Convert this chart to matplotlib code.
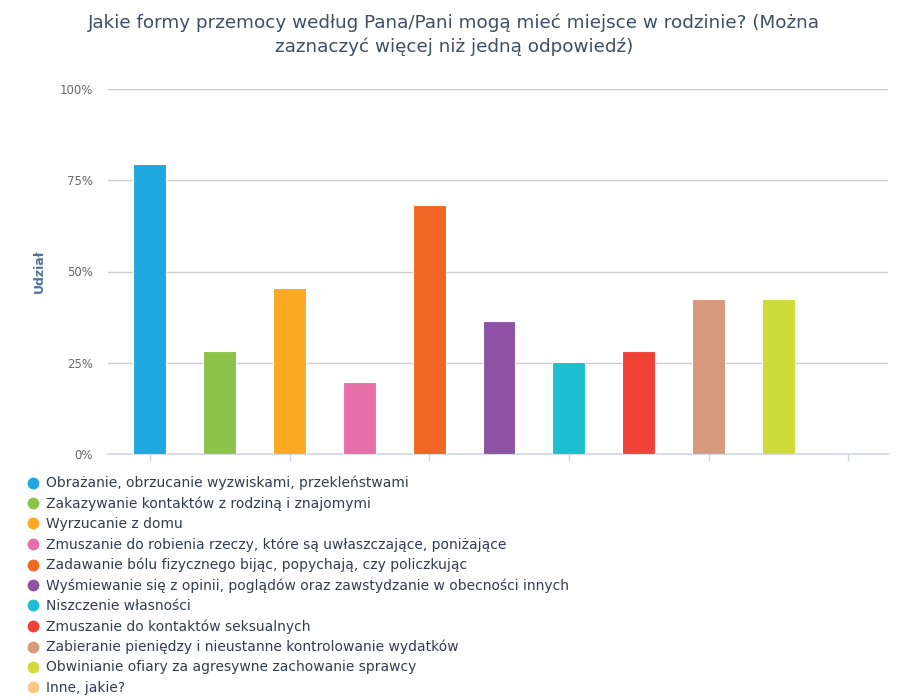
import matplotlib
matplotlib.use("Agg")
import matplotlib.pyplot as plt
from matplotlib.lines import Line2D
import numpy as np

plt.rcParams['font.family'] = ['DejaVu Sans']

title = "Jakie formy przemocy według Pana/Pani mogą mieć miejsce w rodzinie? (Można\nzaznaczyć więcej niż jedną odpowiedź)"
categories = [
    "Obrażanie, obrzucanie wyzwiskami, przekleństwami",
    "Zakazywanie kontaktów z rodziną i znajomymi",
    "Wyrzucanie z domu",
    "Zmuszanie do robienia rzeczy, które są uwłaszczające, poniżające",
    "Zadawanie bólu fizycznego bijąc, popychają, czy policzkując",
    "Wyśmiewanie się z opinii, poglądów oraz zawstydzanie w obecności innych",
    "Niszczenie własności",
    "Zmuszanie do kontaktów seksualnych",
    "Zabieranie pieniędzy i nieustanne kontrolowanie wydatków",
    "Obwinianie ofiary za agresywne zachowanie sprawcy",
    "Inne, jakie?",
]
values = [79.5, 28.2, 45.5, 19.7, 68.2, 36.5, 25.3, 28.1, 42.5, 42.5, 0.0]
colors = ["#1fa8e0", "#8bc34a", "#fba823", "#e76fa8", "#f06724", "#8d52a1",
          "#1bbfcf", "#ef4136", "#d7987b", "#cddc39", "#ffc982"]
yticks = [0, 25, 50, 75, 100]
ytick_labels = ["0%", "25%", "50%", "75%", "100%"]
ylabel = "Udział"

W, H = 908, 700
fig = plt.figure(figsize=(W / 100, H / 100), dpi=100)

ax = fig.add_axes([108 / W, 1 - 454 / H, (888 - 108) / W, (454 - 89) / H])
x = np.arange(len(categories))
ax.bar(x, values, width=0.47, color=colors, edgecolor='white', linewidth=0.8, zorder=3)
ax.set_xlim(-0.6, 10.57)
ax.set_ylim(0, 100)
ax.set_yticks(yticks)
ax.set_yticklabels(ytick_labels, color='#666666', fontsize=8.5)
ax.set_xticks(x[::2])
ax.set_xticklabels([])
ax.tick_params(axis='x', length=5, color='#ccd6eb', width=1)
ax.tick_params(axis='y', length=0, pad=11)
ax.grid(axis='y', color='#cccccc', linewidth=1, zorder=0)
for s in ['top', 'right', 'left']:
    ax.spines[s].set_visible(False)
ax.spines['bottom'].set_color('#ccd6eb')
ax.spines['bottom'].set_linewidth(1.2)
ax.set_ylabel(ylabel, color='#4d759e', fontsize=9, fontweight='bold', labelpad=10)

fig.text(0.5, 1 - 35 / H, title, ha='center', va='center', fontsize=13.2,
         color='#3e4e63', linespacing=1.4)

handles = [Line2D([0], [0], marker='o', linestyle='none', markersize=7.5,
                  markerfacecolor=c, markeredgecolor=c) for c in colors]
leg = fig.legend(handles, categories, loc='upper left', bbox_to_anchor=(27 / W, 1 - 476 / H),
                 frameon=False, fontsize=10, handlelength=0.8, handletextpad=0.55,
                 labelspacing=0.44, borderaxespad=0, borderpad=0)
for t in leg.get_texts():
    t.set_color('#333d50')

fig.savefig("out.png", dpi=100)
